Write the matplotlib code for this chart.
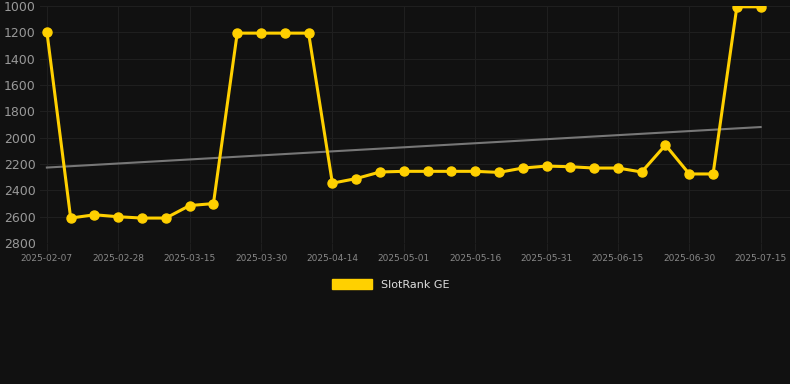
import numpy as np
import matplotlib
matplotlib.use("Agg")
import matplotlib.pyplot as plt

# weekly-ish rank readings (lower is better, axis inverted)
ranks = [1195, 2610, 2585, 2600, 2610, 2610, 2515, 2500, 1205, 1205, 1205, 1205,
         2345, 2310, 2260, 2255, 2255, 2255, 2255, 2263, 2230, 2215, 2220, 2230,
         2230, 2260, 2055, 2275, 2275, 1005, 1005]
tick_labels = ["2025-02-07", "2025-02-28", "2025-03-15", "2025-03-30", "2025-04-14",
               "2025-05-01", "2025-05-16", "2025-05-31", "2025-06-15", "2025-06-30",
               "2025-07-15"]
y_ticks = [1000, 1200, 1400, 1600, 1800, 2000, 2200, 2400, 2600, 2800]

bg = "#111111"
gold = "#FFD000"

x = np.arange(len(ranks))
k, b = np.polyfit(x, ranks, 1)
trend = k * x + b

fig = plt.figure(figsize=(7.9, 3.84), dpi=100, facecolor=bg)
ax = fig.add_axes([0.0506, 0.367, 0.949, 0.617])
ax.set_facecolor(bg)

ax.plot(x, trend, color="#777777", lw=1.5, zorder=2)
ax.plot(x, ranks, color=gold, lw=2.2, marker="o", ms=6.5, zorder=3, label="SlotRank GE")

ax.set_ylim(2800, 1000)
ax.set_yticks(y_ticks)
ax.set_xlim(-0.29, 31.22)
ax.set_xticks(x[::3])
ax.set_xticklabels(tick_labels)

ax.grid(True, color="#1f1f1f", lw=0.8)
ax.set_axisbelow(True)
for s in ax.spines.values():
    s.set_visible(False)
ax.tick_params(axis="y", length=0, labelsize=9, labelcolor="#999999", pad=3)
ax.tick_params(axis="x", length=6, color="#1f1f1f", labelsize=6.5, labelcolor="#888888", pad=2)

leg = fig.legend(handles=[plt.Rectangle((0, 0), 1, 1, color=gold)], labels=["SlotRank GE"],
                 loc="center", bbox_to_anchor=(0.495, 0.26), frameon=False,
                 handlelength=3.6, handleheight=1.1, fontsize=8)
for t in leg.get_texts():
    t.set_color("#dddddd")

fig.savefig("out.png", dpi=100, facecolor=bg)
